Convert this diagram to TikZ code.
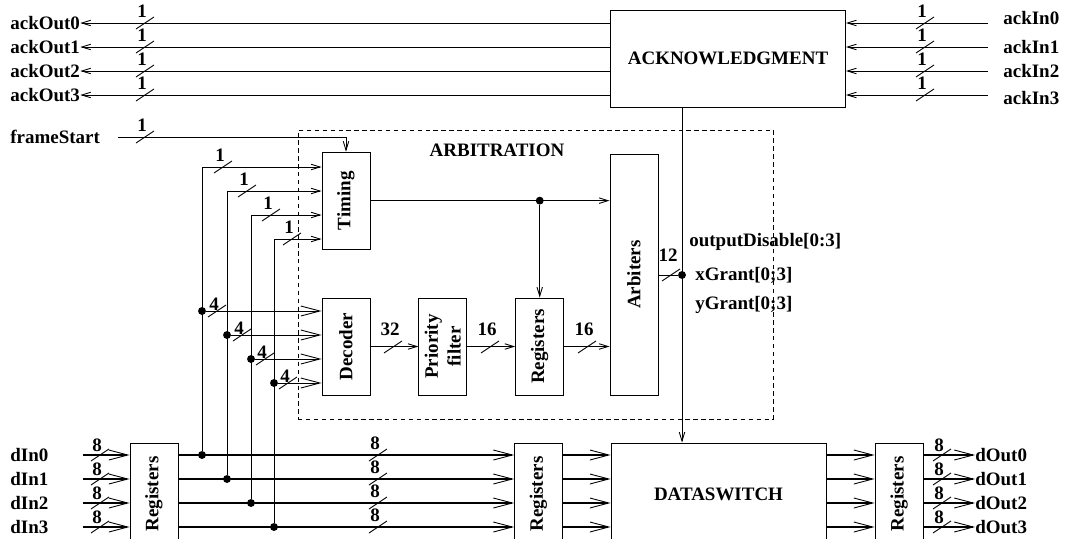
\documentclass[tikz,border=0pt]{standalone}
\usepackage{fontspec}
\setmainfont{Liberation Serif}
\usepackage{tikz}
\usetikzlibrary{positioning,arrows.meta}
\newcommand{\slashmark}[4][-12]{%
  \draw[wire] (#2-9,#3+6) -- (#2+9,#3-6);
  \node[lbl] (w#2-#3) at (#2-3,#3+#1) {#4};}

\begin{document}
\begin{tikzpicture}[
  x=0.02cm, y=-0.02cm,
  node distance=0.96cm,
  font=\fontsize{10.8}{13}\selectfont\bfseries,
  blk/.style={draw, line width=0.5pt, inner sep=0pt, minimum width=0.96cm, minimum height=1.94cm, fill=white},
  lbl/.style={inner sep=0pt},
  wire/.style={line width=0.5pt},
  bus/.style={line width=1.3pt},
  arr/.style={wire, -{Straight Barb[length=1.8mm, width=1.1mm, line width=0.5pt]}},
  barr/.style={-{Straight Barb[length=3.8mm, width=2mm, line width=0.5pt]}},
  dot/.style={circle, fill, inner sep=0pt, minimum size=4.5pt}
]
\useasboundingbox (0,0) rectangle (1065,538);
% arbitration frame
\node[draw, line width=0.5pt, dash pattern=on 2.5pt off 2pt, minimum width=9.5cm, minimum height=5.78cm] (arbit) at (535.5,274.5) {};
\node (arbtitle) at (497,150) {ARBITRATION};
% blocks
\node[blk, minimum width=4.7cm] (ack) at (728,58.5) {ACKNOWLEDGMENT};
\node[blk] (dec) at (346,346.5) {\rotatebox{90}{Decoder}};
\node[blk, above=of dec] (tim) {\rotatebox{90}{Timing}};
\node[blk, right=of dec] (prio) {\rotatebox{90}{\shortstack{Priority\\filter}}};
\node[blk, right=of prio] (reg) {\rotatebox{90}{Registers}};
\node[blk, minimum height=4.82cm] (arb) at (634,274.5) {\rotatebox{90}{Arbiters}};
\node[blk, minimum height=2.04cm] (rin) at (154,494) {\rotatebox{90}{Registers}};
\node[blk, minimum height=2.04cm] (rmid) at (538.5,494) {\rotatebox{90}{Registers}};
\node[blk, minimum width=4.3cm, minimum height=2.04cm] (dsw) at (718.5,494) {DATASWITCH};
\node[blk, minimum height=2.04cm] (rout) at (899,494) {\rotatebox{90}{Registers}};
% acknowledgment lines
\foreach \i/\y/\t in {0/23/18, 1/47/47, 2/71/71, 3/95/98} {
  \node[lbl, anchor=west] (aout\i) at (10,\y) {ackOut\i};
  \draw[arr] (ack.west |- aout\i) -- (aout\i.east);
  \slashmark{145}{\y}{1}
  \node[lbl, anchor=west] (ain\i) at (1003,\t) {ackIn\i};
  \coordinate (ains\i) at (988,\y);
  \draw[arr] (ains\i) -- (ack.east |- ains\i);
  \slashmark{925}{\y}{1}
}
% frame start
\node[lbl, anchor=west] (fs) at (10,137) {frameStart};
\coordinate (fss) at (118,137);
\draw[arr] (fss) -| (tim.north);
\slashmark{145}{137}{1}
% data path
\foreach \i/\y in {0/455, 1/479, 2/503, 3/527} {
  \node[lbl, anchor=west] (din\i) at (10,\y) {dIn\i};
  \coordinate (dins\i) at (83,\y);
  \draw[bus, barr] (dins\i) -- (rin.west |- dins\i);
  \slashmark[-10]{100}{\y}{8}
  \draw[bus, barr] (rin.east |- dins\i) -- (rmid.west |- dins\i);
  \slashmark{378}{\y}{8}
  \draw[bus, barr] (rmid.east |- dins\i) -- (dsw.west |- dins\i);
  \draw[bus, barr] (dsw.east |- dins\i) -- (rout.west |- dins\i);
  \node[lbl, anchor=west] (dout\i) at (975,\y) {dOut\i};
  \draw[bus, barr] (rout.east |- dins\i) -- (dout\i.west);
  \slashmark[-10]{942}{\y}{8}
}
% taps into timing and decoder
\foreach \i/\x/\t/\d/\b/\sa/\sb in {0/202/167/311/455/223/217, 1/227/191/335/479/247/242,
                                     2/251/215/359/503/271/265, 3/274/239/383/527/292/288} {
  \coordinate (tap\i) at (\x,\t);
  \node[dot] (jd\i) at (\x,\d) {};
  \node[dot] (jb\i) at (\x,\b) {};
  \draw[wire] (jb\i) -- (tap\i);
  \draw[arr] (tap\i) -- (tim.west |- tap\i);
  \draw[wire, barr] (jd\i) -- (dec.west |- jd\i);
  \slashmark{\sa}{\t}{1}
  \slashmark[-7]{\sb}{\d}{4}
}
% arbitration internals
\node[dot] (jt) at (reg.north |- tim.east) {};
\draw[arr] (tim.east) -- (arb.west |- tim.east);
\draw[arr] (jt) -- (reg.north);
\draw[arr] (dec.east) -- (prio.west);
\slashmark[-18]{393}{347}{32}
\draw[arr] (prio.east) -- (reg.west);
\slashmark[-18]{490}{347}{16}
\draw[arr] (reg.east) -- (arb.west |- reg.east);
\slashmark[-18]{587}{347}{16}
% grants
\node[dot] (jg) at (682,275) {};
\draw[wire] (arb.east |- jg) -- (jg);
\slashmark[-20]{671}{275}{12}
\draw[arr] (ack.south -| jg) -- (dsw.north -| jg);
\node[lbl, anchor=west] (odis) at (689,242) {outputDisable[0:3]};
\node[lbl, anchor=west] (xg) at (695,275) {xGrant[0;3]};
\node[lbl, anchor=west] (yg) at (695,305) {yGrant[0;3]};
\end{tikzpicture}
\end{document}
